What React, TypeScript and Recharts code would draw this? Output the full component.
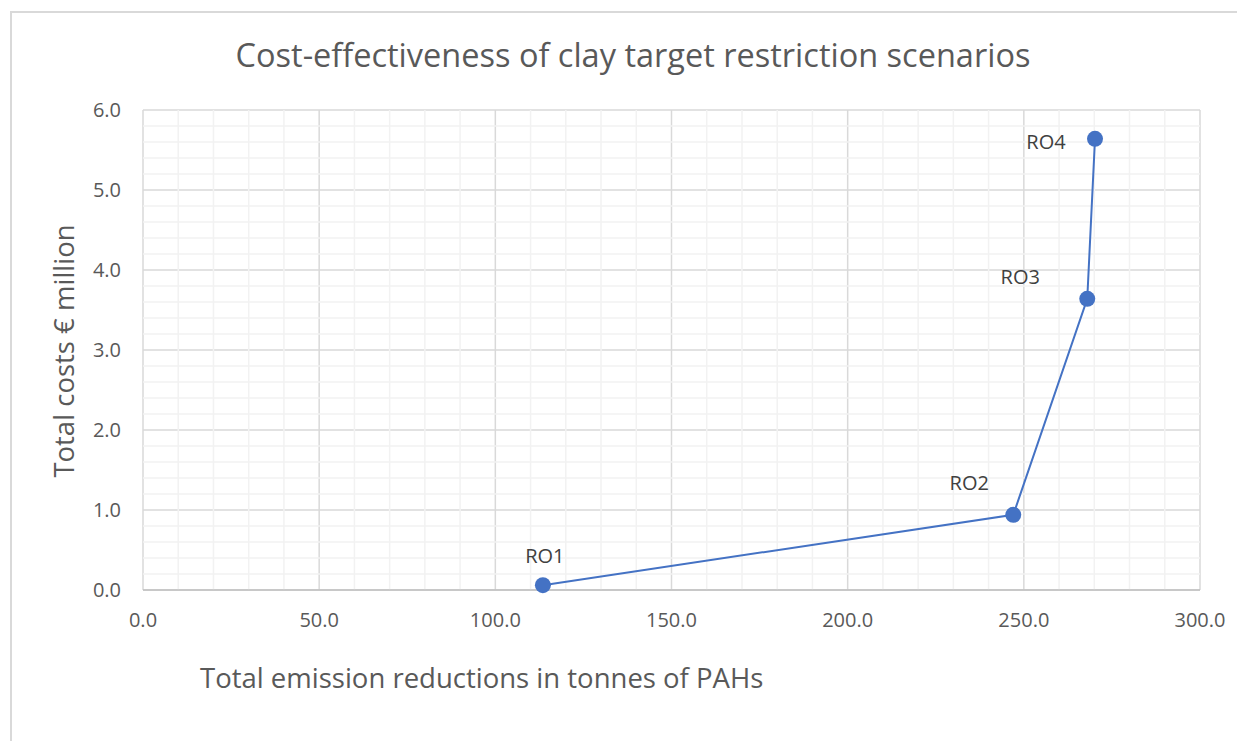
import { ScatterChart, Scatter, XAxis, YAxis, CartesianGrid, ReferenceLine, LabelList } from 'recharts'

const emissionReductions = [113.5, 247.0, 268.0, 270.2]
const totalCosts = [0.06, 0.94, 3.64, 5.64]
const scenarioLabels = ['RO1', 'RO2', 'RO3', 'RO4']

const xTicks = [0, 50, 100, 150, 200, 250, 300]
const yTicks = [0, 1, 2, 3, 4, 5, 6]
const xMinorTicks = [10, 20, 30, 40, 60, 70, 80, 90, 110, 120, 130, 140, 160, 170, 180, 190, 210, 220, 230, 240, 260, 270, 280, 290]
const yMinorTicks = [0.2, 0.4, 0.6, 0.8, 1.2, 1.4, 1.6, 1.8, 2.2, 2.4, 2.6, 2.8, 3.2, 3.4, 3.6, 3.8, 4.2, 4.4, 4.6, 4.8, 5.2, 5.4, 5.6, 5.8]

// hand-placed data label offsets (like the excel chart)
const labelOffsets = [
  [2, -30],
  [-44, -32],
  [-67, -22],
  [-49, 3],
]

const FONT = '"Open Sans", "Liberation Sans", sans-serif'
const BLUE = '#4472C4'
const TEXT = '#595959'

const data = emissionReductions.map((x, i) => ({ x, y: totalCosts[i], name: scenarioLabels[i] }))

const Dot = (props: any) => <circle cx={props.cx} cy={props.cy} r={8} fill={BLUE} />

const PointLabel = (props: any) => {
  const { x, y, width, height, index } = props
  const cx = x + (width || 0) / 2
  const cy = y + (height || 0) / 2
  const [dx, dy] = labelOffsets[index]
  return (
    <text x={cx + dx} y={cy + dy} textAnchor="middle" dominantBaseline="central" fontSize={20} fill="#404040" fontFamily={FONT}>
      {scenarioLabels[index]}
    </text>
  )
}

export default function App() {
  return (
    <div style={{ position: 'relative', width: 1229, height: 733, fontFamily: FONT }}>
      <div style={{ position: 'absolute', left: 2, top: 3, width: 1240, height: 740, borderLeft: '2px solid #d9d9d9', borderTop: '2px solid #d9d9d9' }} />
      <div style={{ position: 'absolute', left: 0, top: 24, width: 1250, textAlign: 'center', fontSize: 32.5, color: TEXT, whiteSpace: 'nowrap' }}>
        Cost-effectiveness of clay target restriction scenarios
      </div>
      <div style={{ position: 'absolute', left: 192, top: 651, fontSize: 27.5, color: TEXT, whiteSpace: 'nowrap' }}>
        Total emission reductions in tonnes of PAHs
      </div>
      <div
        style={{
          position: 'absolute', left: 55, top: 343, fontSize: 27.5, color: TEXT, whiteSpace: 'nowrap',
          transform: 'translate(-50%, -50%) rotate(-90deg)',
        }}
      >
        Total costs € million
      </div>
      <ScatterChart width={1229} height={733} margin={{ top: 102, right: 37, bottom: 0, left: 0 }} style={{ position: 'absolute', left: 0, top: 0 }}>
        {xMinorTicks.map((v) => (
          <ReferenceLine key={'x' + v} x={v} stroke="#f2f2f2" strokeWidth={1.5} />
        ))}
        {yMinorTicks.map((v) => (
          <ReferenceLine key={'y' + v} y={v} stroke="#f2f2f2" strokeWidth={1.5} />
        ))}
        <CartesianGrid stroke="#d9d9d9" strokeWidth={1.5} />
        <XAxis
          type="number"
          dataKey="x"
          domain={[0, 300]}
          ticks={xTicks}
          tickFormatter={(v) => v.toFixed(1)}
          height={151}
          tickSize={0}
          tickMargin={23}
          tick={{ fontSize: 20, fill: TEXT, fontFamily: FONT }}
          axisLine={{ stroke: '#bfbfbf', strokeWidth: 1.5 }}
          tickLine={false}
        />
        <YAxis
          type="number"
          dataKey="y"
          domain={[0, 6]}
          ticks={yTicks}
          tickFormatter={(v) => v.toFixed(1)}
          width={135}
          tickSize={0}
          tickMargin={22}
          tick={{ fontSize: 20, fill: TEXT, fontFamily: FONT }}
          axisLine={false}
          tickLine={false}
        />
        <Scatter data={data} fill={BLUE} line={{ stroke: BLUE, strokeWidth: 2 }} shape={Dot} isAnimationActive={false}>
          <LabelList dataKey="name" content={PointLabel} />
        </Scatter>
      </ScatterChart>
    </div>
  )
}
